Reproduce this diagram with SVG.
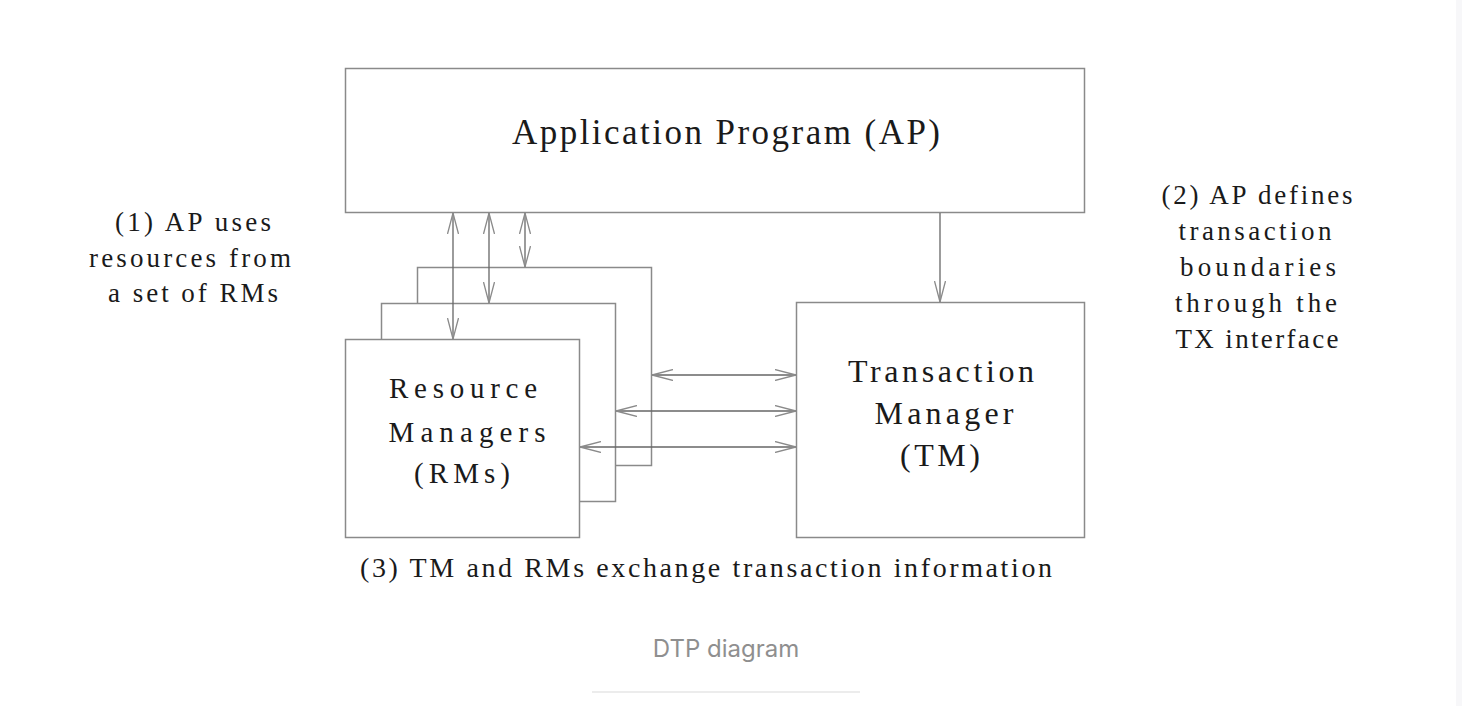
<svg xmlns="http://www.w3.org/2000/svg" width="1462" height="706" viewBox="0 0 1462 706">
<defs>
<style>
.box{fill:#fff;stroke:#8a8a8a;stroke-width:1.5}
.ln{fill:none;stroke:#666;stroke-width:1.3}
.t{font-family:"Liberation Serif","DejaVu Serif",serif;fill:#1a1a1a;text-anchor:middle}
.big{font-size:35px}
.tmf{font-size:32px}
.mid{font-size:29px}
.sm{font-size:27px}
.bt{font-size:28px}
.cap{font-family:"Inter","Liberation Sans",sans-serif;font-size:24px;fill:#8f8f8f;text-anchor:middle}
</style>
<marker id="ah" viewBox="0 0 22 12" refX="21" refY="6" markerWidth="22" markerHeight="12" markerUnits="userSpaceOnUse" orient="auto-start-reverse">
<path d="M0,0.5 L21,6 L0,11.5" fill="none" stroke="#8a8a8a" stroke-width="1.3"/>
</marker>
</defs>
<rect width="1462" height="706" fill="#fff"/>
<rect x="1456" y="0" width="6" height="706" fill="#f7f7f9"/>

<g id="ap">
<rect class="box" x="345.5" y="68.5" width="739" height="144"/>
<text class="t big" x="726" y="144" textLength="428" lengthAdjust="spacing">Application Program (AP)</text>
</g>

<g id="rm">
<rect class="box" x="417.5" y="267.5" width="234" height="198"/>
<rect class="box" x="381.5" y="303.5" width="234" height="198"/>
<rect class="box" x="345.5" y="339.5" width="234" height="198"/>
<text class="t mid" x="463" y="398" textLength="148" lengthAdjust="spacing">Resource</text>
<text class="t mid" x="467" y="442" textLength="157" lengthAdjust="spacing">Managers</text>
<text class="t mid" x="462" y="483" textLength="96" lengthAdjust="spacing">(RMs)</text>
</g>

<g id="tm">
<rect class="box" x="796.5" y="302.5" width="288" height="235"/>
<text class="t tmf" x="941" y="382" textLength="186" lengthAdjust="spacing">Transaction</text>
<text class="t tmf" x="944" y="424" textLength="139" lengthAdjust="spacing">Manager</text>
<text class="t tmf" x="940" y="466" textLength="80" lengthAdjust="spacing">(TM)</text>
</g>

<g id="connectors">
<line class="ln" x1="453" y1="213" x2="453" y2="339" marker-start="url(#ah)" marker-end="url(#ah)"/>
<line class="ln" x1="489" y1="213" x2="489" y2="303" marker-start="url(#ah)" marker-end="url(#ah)"/>
<line class="ln" x1="525" y1="213" x2="525" y2="267" marker-start="url(#ah)" marker-end="url(#ah)"/>
<line class="ln" x1="940" y1="213" x2="940" y2="302" marker-end="url(#ah)"/>
<line class="ln" x1="652" y1="375" x2="796" y2="375" marker-start="url(#ah)" marker-end="url(#ah)"/>
<line class="ln" x1="616" y1="411" x2="796" y2="411" marker-start="url(#ah)" marker-end="url(#ah)"/>
<line class="ln" x1="580" y1="447" x2="796" y2="447" marker-start="url(#ah)" marker-end="url(#ah)"/>
</g>

<g id="note1">
<text class="t sm" x="193" y="231" textLength="156" lengthAdjust="spacing">(1) AP uses</text>
<text class="t sm" x="190" y="267" textLength="202" lengthAdjust="spacing">resources from</text>
<text class="t sm" x="193" y="302" textLength="170" lengthAdjust="spacing">a set of RMs</text>
</g>

<g id="note2">
<text class="t sm" x="1257" y="204" textLength="191" lengthAdjust="spacing">(2) AP defines</text>
<text class="t sm" x="1255" y="240" textLength="153" lengthAdjust="spacing">transaction</text>
<text class="t sm" x="1258" y="276" textLength="156" lengthAdjust="spacing">boundaries</text>
<text class="t sm" x="1256" y="312" textLength="162" lengthAdjust="spacing">through the</text>
<text class="t sm" x="1257" y="348" textLength="163" lengthAdjust="spacing">TX interface</text>
</g>

<g id="note3">
<text class="t bt" x="706" y="577" textLength="692" lengthAdjust="spacing">(3) TM and RMs exchange transaction information</text>
</g>

<g id="caption">
<text class="cap" x="726" y="657">DTP diagram</text>
<line x1="592" y1="692" x2="860" y2="692" stroke="#ececec" stroke-width="2"/>
</g>
</svg>
